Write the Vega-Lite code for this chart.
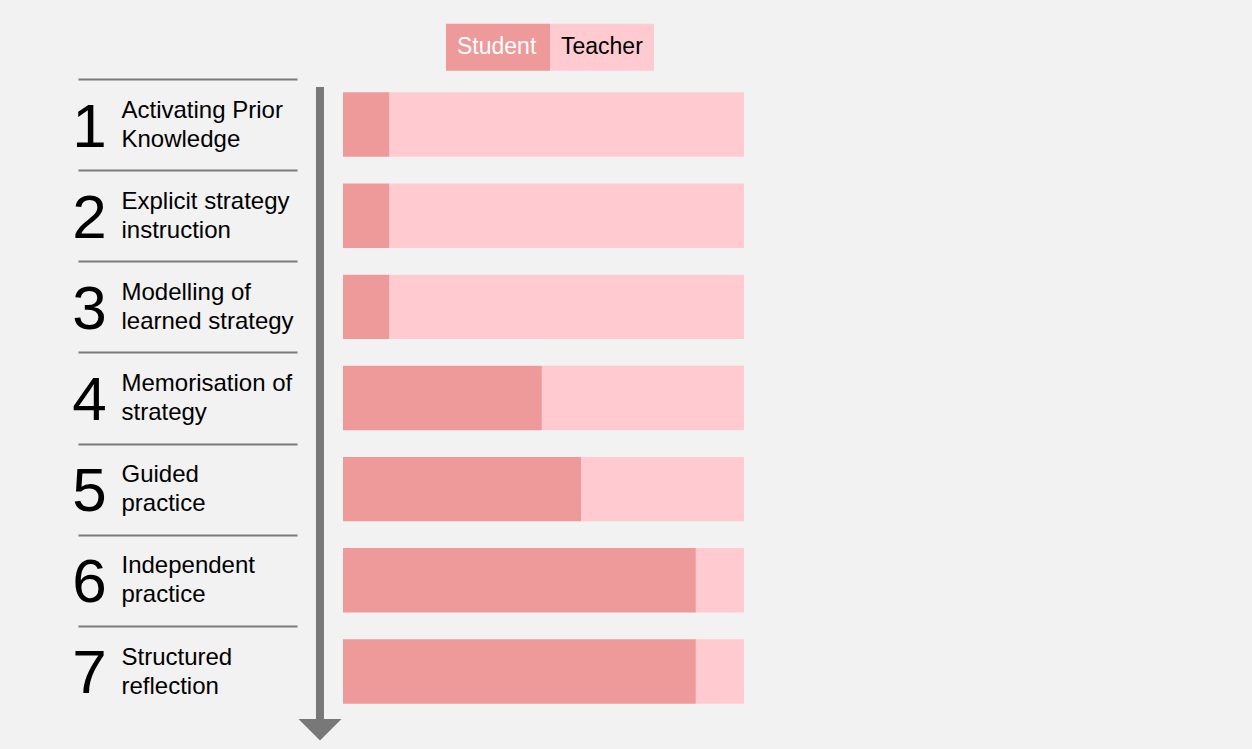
{
  "$schema": "https://vega.github.io/schema/vega-lite/v6.json",
  "autosize": {"type": "none"},
  "width": 401,
  "height": 638,
  "padding": {"left": 343, "top": 79, "right": 508, "bottom": 32},
  "background": "#f2f2f2",
  "config": {"font": "Liberation Sans", "view": {"stroke": null}},
  "datasets": {
    "shares": [
      {"stage": 1, "name": "Activating Prior\nKnowledge", "role": "Student", "share": 11.6},
      {"stage": 1, "name": "Activating Prior\nKnowledge", "role": "Teacher", "share": 88.4},
      {"stage": 2, "name": "Explicit strategy\ninstruction", "role": "Student", "share": 11.6},
      {"stage": 2, "name": "Explicit strategy\ninstruction", "role": "Teacher", "share": 88.4},
      {"stage": 3, "name": "Modelling of\nlearned strategy", "role": "Student", "share": 11.6},
      {"stage": 3, "name": "Modelling of\nlearned strategy", "role": "Teacher", "share": 88.4},
      {"stage": 4, "name": "Memorisation of\nstrategy", "role": "Student", "share": 49.6},
      {"stage": 4, "name": "Memorisation of\nstrategy", "role": "Teacher", "share": 50.4},
      {"stage": 5, "name": "Guided\npractice", "role": "Student", "share": 59.4},
      {"stage": 5, "name": "Guided\npractice", "role": "Teacher", "share": 40.6},
      {"stage": 6, "name": "Independent\npractice", "role": "Student", "share": 88.0},
      {"stage": 6, "name": "Independent\npractice", "role": "Teacher", "share": 12.0},
      {"stage": 7, "name": "Structured\nreflection", "role": "Student", "share": 88.0},
      {"stage": 7, "name": "Structured\nreflection", "role": "Teacher", "share": 12.0}
    ],
    "arrow": [{"from": 1, "to": 7}]
  },
  "layer": [
    {
      "data": {"name": "shares"},
      "mark": {"type": "bar"},
      "encoding": {
        "y": {
          "field": "name", "type": "nominal", "sort": {"field": "stage"},
          "scale": {"paddingInner": 0.293, "paddingOuter": 0.1465},
          "axis": {
            "orient": "left", "title": null, "offset": 46, "domain": false,
            "ticks": true, "bandPosition": 0, "tickExtra": false, "tickOffset": -13.4,
            "tickSize": 219, "tickColor": "#7a7a7a", "tickWidth": 1.8,
            "labelAlign": "left", "labelBaseline": "middle", "labelPadding": -43,
            "labelFontSize": 24, "labelColor": "#000000", "labelLineHeight": 29,
            "labelLimit": 0, "labelOverlap": false, "labelFont": "Liberation Sans",
            "labelOffset": -1,
            "labelExpr": "split(datum.label, '\\n')"
          }
        },
        "x": {
          "field": "share", "type": "quantitative", "stack": "zero",
          "scale": {"domain": [0, 100], "nice": false},
          "axis": null
        },
        "color": {
          "field": "role", "type": "nominal",
          "scale": {"domain": ["Student", "Teacher"], "range": ["#ee9a9a", "#ffcbd0"]},
          "legend": {
            "orient": "none", "legendX": 103, "legendY": -84, "direction": "horizontal",
            "title": null, "padding": 0, "columnPadding": 0,
            "symbolType": "M-1,-0.452L1,-0.452L1,0.452L-1,0.452Z",
            "symbolSize": 10816, "symbolStrokeWidth": 0, "symbolOpacity": 1,
            "labelFontSize": 23, "labelOffset": -93, "labelFont": "Liberation Sans",
            "encode": {"labels": {"update": {"fill": {"signal": "datum.label === 'Student' ? '#ffffff' : '#000000'"}}}}
          }
        },
        "order": {"field": "role", "sort": "ascending"}
      }
    },
    {
      "data": {"name": "shares"},
      "transform": [{"filter": "datum.role === 'Student'"}],
      "mark": {"type": "bar", "opacity": 0},
      "encoding": {
        "y": {
          "field": "stage", "type": "ordinal",
          "scale": {"paddingInner": 0.293, "paddingOuter": 0.1465},
          "axis": {
            "orient": "left", "title": null, "offset": 23,
            "domain": false, "ticks": false, "tickSize": 0,
            "labelAlign": "center", "labelBaseline": "middle", "labelPadding": 231,
            "labelFontSize": 62, "labelColor": "#000000", "labelFont": "Liberation Sans",
            "labelOffset": 3
          }
        },
        "x": {"field": "share", "type": "quantitative"}
      }
    },
    {
      "data": {"name": "arrow"},
      "layer": [
        {
          "mark": {"type": "rule", "strokeWidth": 8, "color": "#787878"},
          "encoding": {
            "x": {"datum": -5.74, "type": "quantitative"},
            "y": {"datum": 0.588, "type": "quantitative", "scale": {"domain": [0.5, 7.5], "reverse": true, "nice": false, "zero": false}, "axis": null},
            "y2": {"datum": 7.55}
          }
        },
        {
          "mark": {"type": "point", "shape": "M-1,-0.5L1,-0.5L0,0.5Z", "size": 1849, "filled": true, "opacity": 1, "color": "#787878"},
          "encoding": {
            "x": {"datum": -5.74, "type": "quantitative"},
            "y": {"datum": 7.64, "type": "quantitative", "axis": null}
          }
        }
      ]
    }
  ],
  "resolve": {"scale": {"y": "independent", "color": "independent"}, "axis": {"y": "independent"}}
}
